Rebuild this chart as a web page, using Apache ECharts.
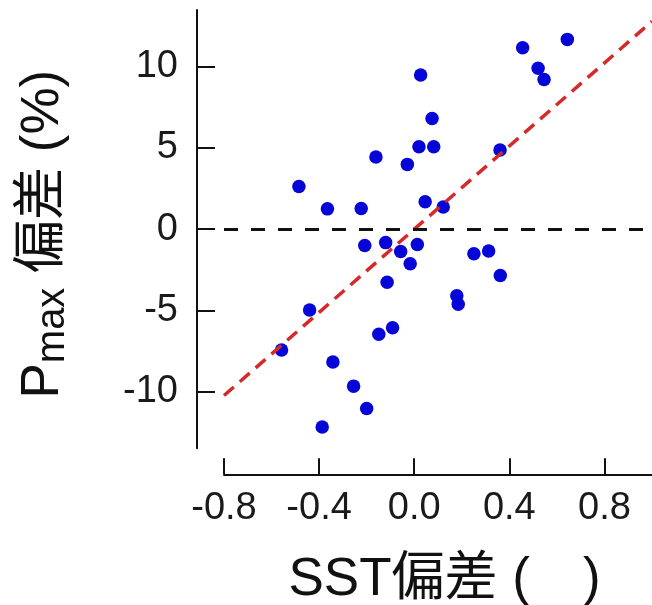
<!DOCTYPE html>
<html>
<head>
<meta charset="utf-8">
<script src="https://cdn.jsdelivr.net/npm/echarts@6/dist/echarts.min.js"></script>
<style>html,body{margin:0;padding:0;background:#fff}#c{width:652px;height:605px}</style>
</head>
<body>
<div id="c"></div>
<script>
// SST anomaly (x) and Pmax anomaly in % (y)
const sstAnomaly = [0.644, 0.456, 0.521, 0.546, 0.027, 0.075, 0.361, 0.020, 0.082, -0.161,
  -0.029, -0.485, -0.365, -0.223, 0.046, 0.122, -0.208, -0.120, -0.057, 0.013,
  -0.017, -0.114, 0.251, 0.313, 0.362, 0.179, 0.185, -0.440, -0.091, -0.149,
  -0.558, -0.342, -0.255, -0.200, -0.387];
const pmaxAnomaly = [11.69, 11.17, 9.91, 9.22, 9.49, 6.81, 4.88, 5.08, 5.08, 4.44,
  3.99, 2.63, 1.25, 1.27, 1.69, 1.36, -1.01, -0.83, -1.38, -0.94,
  -2.13, -3.27, -1.51, -1.34, -2.86, -4.10, -4.63, -4.98, -6.07, -6.48,
  -7.45, -8.19, -9.67, -11.05, -12.19];
// regression line end points
const fitX = [-0.8, 1.0];
const fitY = [-10.25, 12.8];
// tick values
const xTicks = [-0.8, -0.4, 0, 0.4, 0.8];
const yTicks = [-10, -5, 0, 5, 10];

const FONT = '"Liberation Sans", "Noto Sans CJK JP", sans-serif';
const chart = echarts.init(document.getElementById('c'), null, {renderer: 'canvas'});
chart.setOption({
  backgroundColor: '#ffffff',
  animation: false,
  grid: {left: 224, width: 428, top: 10, height: 438.3, containLabel: false, outerBoundsMode: 'none'},
  xAxis: {
    type: 'value', min: -0.8, max: 1.0, offset: 26,
    axisLine: {show: true, onZero: false, lineStyle: {color: '#111', width: 2}},
    axisTick: {show: true, inside: true, length: 16, customValues: xTicks, lineStyle: {color: '#111', width: 2}},
    axisLabel: {show: true, margin: 15, customValues: xTicks, fontSize: 38, fontFamily: FONT, color: '#1a1a1a',
      formatter: v => v.toFixed(1)},
    splitLine: {show: false},
    name: 'SST偏差 (\u3000)', nameLocation: 'middle', nameGap: 76, nameMoveOverlap: false,
    nameTextStyle: {fontSize: 53, fontFamily: FONT, color: '#111', lineHeight: 60, padding: [0, 0, 0, 13]}
  },
  yAxis: {
    type: 'value', min: -13.5, max: 13.5, offset: 27,
    axisLine: {show: true, onZero: false, lineStyle: {color: '#111', width: 2}},
    axisTick: {show: true, inside: true, length: 18, customValues: yTicks, lineStyle: {color: '#111', width: 2}},
    axisLabel: {show: true, margin: 19, customValues: yTicks, fontSize: 38, fontFamily: FONT, color: '#1a1a1a'},
    splitLine: {show: false},
    name: '{p|P}{s|max}{m| 偏差 (%)}', nameLocation: 'middle', nameRotate: 90, nameGap: 124, nameMoveOverlap: false,
    nameTextStyle: {
      color: '#111',
      padding: [0, 10, 0, 0],
      rich: {
        p: {fontSize: 53, fontFamily: FONT, color: '#111', lineHeight: 60},
        s: {fontSize: 40, fontFamily: FONT, color: '#111', lineHeight: 20, verticalAlign: 'bottom'},
        m: {fontSize: 53, fontFamily: FONT, color: '#111', lineHeight: 60}
      }
    }
  },
  series: [
    {
      type: 'scatter',
      data: sstAnomaly.map((x, i) => [x, pmaxAnomaly[i]]),
      symbol: 'circle', symbolSize: 13.5,
      itemStyle: {color: '#0505d8', opacity: 1},
      z: 2,
      markLine: {
        silent: true, symbol: ['none', 'none'], label: {show: false},
        lineStyle: {color: '#111', type: [14, 13], width: 3},
        data: [{yAxis: 0}],
        animation: false
      }
    },
    {
      type: 'line',
      data: fitX.map((x, i) => [x, fitY[i]]),
      showSymbol: false, symbol: 'none',
      lineStyle: {color: '#d42a2a', width: 3.5, type: [13, 8]},
      z: 3
    }
  ]
});
</script>
</body>
</html>
